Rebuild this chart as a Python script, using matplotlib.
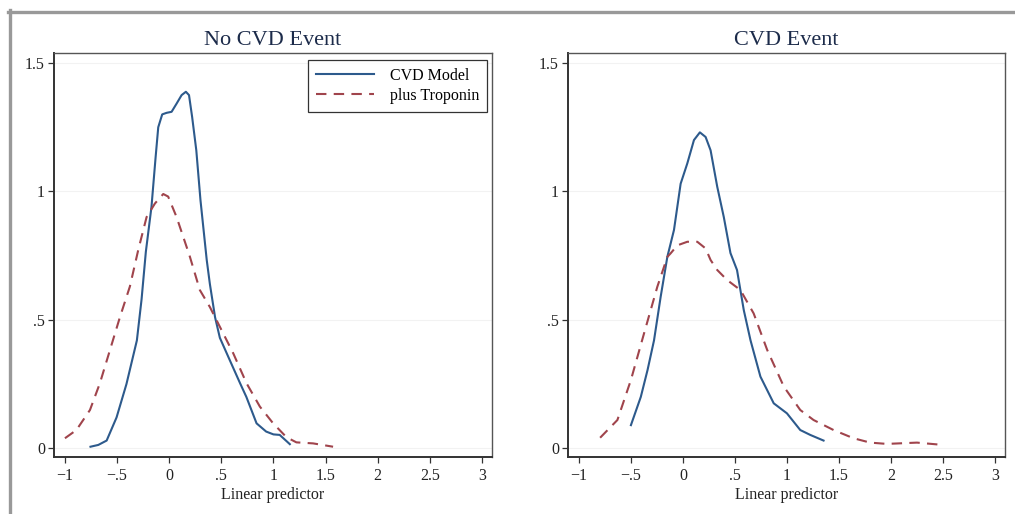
import matplotlib.pyplot as plt
from matplotlib.lines import Line2D

plt.rcParams['font.family'] = ['Liberation Serif', 'DejaVu Serif']

# No CVD Event panel
no_cvd_model_x = [-0.755, -0.68, -0.60, -0.505, -0.41, -0.31, -0.265, -0.224, -0.17, -0.13,
                  -0.105, -0.067, -0.025, 0.023, 0.071, 0.119, 0.16, 0.19, 0.22, 0.26,
                  0.30, 0.36, 0.39, 0.44, 0.486, 0.58, 0.68, 0.74, 0.838, 0.93,
                  1.0, 1.06, 1.157]
no_cvd_model_y = [0.006, 0.013, 0.03, 0.12, 0.25, 0.42, 0.58, 0.765, 0.94, 1.135,
                  1.25, 1.30, 1.306, 1.31, 1.342, 1.375, 1.388, 1.375, 1.29, 1.16,
                  0.966, 0.733, 0.64, 0.51, 0.43, 0.344, 0.253, 0.20, 0.097, 0.065,
                  0.054, 0.052, 0.016]
no_cvd_trop_x = [-1.0, -0.89, -0.76, -0.665, -0.57, -0.473, -0.377, -0.297, -0.217, -0.137,
                 -0.057, -0.01, 0.071, 0.167, 0.199, 0.294, 0.39, 0.486, 0.614, 0.742,
                 0.87, 0.997, 1.125, 1.22, 1.38, 1.572]
no_cvd_trop_y = [0.039, 0.071, 0.149, 0.253, 0.38, 0.51, 0.63, 0.772, 0.90, 0.953,
                 0.99, 0.98, 0.90, 0.784, 0.745, 0.616, 0.55, 0.473, 0.37, 0.253,
                 0.162, 0.097, 0.043, 0.023, 0.019, 0.006]

# CVD Event panel
cvd_model_x = [-0.50, -0.405, -0.34, -0.278, -0.214, -0.15, -0.086, -0.022, 0.042, 0.106,
               0.163, 0.218, 0.266, 0.33, 0.393, 0.457, 0.52, 0.585, 0.65, 0.745,
               0.873, 1.0, 1.128, 1.224, 1.352]
cvd_model_y = [0.09, 0.20, 0.305, 0.42, 0.59, 0.745, 0.85, 1.03, 1.109, 1.20,
               1.23, 1.212, 1.16, 1.018, 0.90, 0.76, 0.694, 0.538, 0.42, 0.279,
               0.175, 0.136, 0.071, 0.052, 0.030]
cvd_trop_x = [-0.796, -0.63, -0.50, -0.374, -0.246, -0.15, -0.118, -0.054, 0.042, 0.138,
              0.218, 0.266, 0.33, 0.425, 0.553, 0.68, 0.81, 0.97, 1.128, 1.256,
              1.448, 1.64, 1.80, 1.96, 2.25, 2.50]
cvd_trop_y = [0.041, 0.11, 0.266, 0.447, 0.629, 0.745, 0.759, 0.79, 0.804, 0.804,
              0.778, 0.733, 0.694, 0.655, 0.616, 0.525, 0.383, 0.24, 0.149, 0.11,
              0.071, 0.039, 0.022, 0.017, 0.022, 0.013]

xticks = [-1, -0.5, 0, 0.5, 1, 1.5, 2, 2.5, 3]
xtick_labels = ['\u22121', '\u2212.5', '0', '.5', '1', '1.5', '2', '2.5', '3']
yticks = [0, 0.5, 1, 1.5]
ytick_labels = ['0', '.5', '1', '1.5']

blue = '#2d5a8c'
red = '#a0444c'

fig = plt.figure(figsize=(10.15, 5.14), dpi=100)
ax1 = fig.add_axes([0.0532, 0.1109, 0.4315, 0.786])
ax2 = fig.add_axes([0.5596, 0.1109, 0.4305, 0.786])

panels = [
    (ax1, 'No CVD Event', no_cvd_model_x, no_cvd_model_y, no_cvd_trop_x, no_cvd_trop_y),
    (ax2, 'CVD Event', cvd_model_x, cvd_model_y, cvd_trop_x, cvd_trop_y),
]
for ax, title, mx, my, tx, ty in panels:
    for y in yticks:
        ax.axhline(y, color='#f2f2f2', lw=0.8, zorder=0)
    ax.plot(mx, my, color=blue, lw=1.5, label='CVD Model')
    ax.plot(tx, ty, color=red, lw=1.5, ls=(0, (5, 3.5)), label='plus Troponin')
    ax.set_xlim(-1.105, 3.096)
    ax.set_ylim(-0.034, 1.539)
    ax.set_xticks(xticks)
    ax.set_xticklabels(xtick_labels)
    ax.set_yticks(yticks)
    ax.set_yticklabels(ytick_labels)
    ax.tick_params(direction='out', length=4.5, width=0.9, labelsize=11.5,
                   labelcolor='#222222', color='#333333')
    ax.tick_params(axis='x', pad=3.5)
    ax.tick_params(axis='y', pad=2)
    ax.set_xlabel('Linear predictor', fontsize=11.5, labelpad=2, color='#222222')
    ax.set_title(title, fontsize=16, color='#1c2b4a', pad=6)
    for side in ['left', 'bottom']:
        ax.spines[side].set_linewidth(1.4)
        ax.spines[side].set_color('#333333')
    for side in ['top', 'right']:
        ax.spines[side].set_linewidth(1.0)
        ax.spines[side].set_color('#555555')

leg = ax1.legend(loc='upper right', fontsize=11.5, frameon=True, fancybox=False,
                 edgecolor='black', handlelength=3.6, borderpad=0.5,
                 labelspacing=0.25, handletextpad=1.0, borderaxespad=0,
                 bbox_to_anchor=(0.989, 0.983))
leg.get_frame().set_linewidth(0.9)

# grey screenshot frame along top and left edges
fig.add_artist(Line2D([8 / 1015, 1.0], [1 - 11.5 / 514] * 2, transform=fig.transFigure,
                      color='#999999', lw=2.4))
fig.add_artist(Line2D([9.5 / 1015] * 2, [0.0, 1 - 10 / 514], transform=fig.transFigure,
                      color='#999999', lw=2.4))

fig.savefig('out.png', dpi=100)
